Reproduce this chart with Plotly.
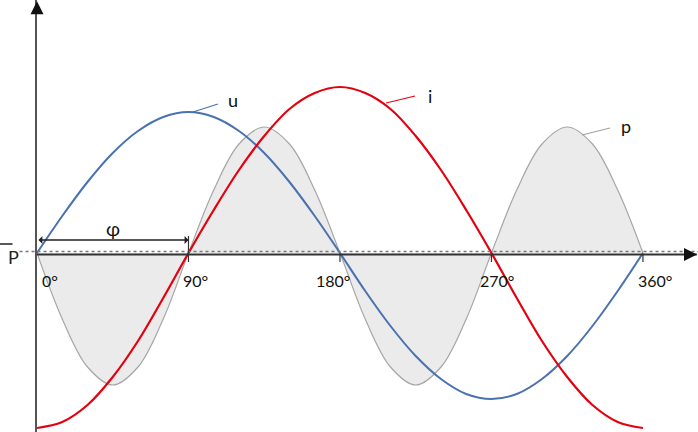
import plotly.graph_objects as go

# angle in degrees (pixels above the zero line)
angle = [0, 15, 30, 45, 60, 75, 90, 105, 120, 135, 150, 165, 180,
         195, 210, 225, 240, 255, 270, 285, 300, 315, 330, 345, 360]
u_vals = [0, 37, 71, 100, 122, 136, 141, 136, 122, 100, 71, 37, 0,
          -38, -73, -103, -126, -141, -146, -141, -126, -103, -73, -38, 0]
i_vals = [-175, -169, -152, -124, -88, -45, 0, 43, 83, 117, 144, 160, 166,
          160, 144, 117, 83, 43, 0, -45, -88, -124, -152, -169, -175]
p_vals = [0, -66, -114, -132, -114, -66, 0, 63, 109, 126, 109, 63, 0,
          -66, -114, -132, -114, -66, 0, 63, 109, 126, 109, 63, 0]

tick_vals = [0, 90, 180, 270, 360]
tick_text = ["0°", "90°", "180°", "270°", "360°"]
tick_shift = [13, 7, -7, 6, 12]

blue = "#4a72b0"
red = "#e3000f"
font = "Lato"

fig = go.Figure()

# p with grey fill
fig.add_trace(go.Scatter(x=angle, y=p_vals, mode="lines", line_shape="spline",
                         line=dict(color="#a6a6a6", width=1.2),
                         fill="tozeroy", fillcolor="#ebebeb", name="p"))
fig.add_trace(go.Scatter(x=angle, y=u_vals, mode="lines", line_shape="spline",
                         line=dict(color=blue, width=2), name="u"))
fig.add_trace(go.Scatter(x=angle, y=i_vals, mode="lines", line_shape="spline",
                         line=dict(color=red, width=2.2), name="i"))

# dotted mean-power line
fig.add_shape(type="line", xref="paper", yref="y", x0=0.028, x1=1, y0=1.5, y1=1.5,
              line=dict(color="#777777", width=1.5, dash="dot"), layer="above")
# solid x axis
fig.add_shape(type="line", xref="x", yref="y", x0=0, x1=392, y0=-1.5, y1=-1.5,
              line=dict(color="#333333", width=2), layer="above")
# axis ticks
for t in tick_vals[1:]:
    fig.add_shape(type="line", xref="x", yref="y", x0=t, x1=t, y0=-1.5, y1=-9,
                  line=dict(color="#333333", width=1.2))
fig.add_shape(type="line", xref="x", yref="y", x0=90, x1=90, y0=0, y1=17,
              line=dict(color="#333333", width=1.2))

# P bar label
fig.add_annotation(x=0.008, xref="paper", y=-4, yref="y", text="P", showarrow=False,
                   font=dict(family=font, size=18, color="#222"))
fig.add_shape(type="line", xref="paper", yref="y", x0=0.0, x1=0.018, y0=9, y1=9,
              line=dict(color="#222", width=1.5))

# tick labels
for t, lab, s in zip(tick_vals, tick_text, tick_shift):
    fig.add_annotation(x=t, y=-27, text=lab, showarrow=False, xshift=s,
                       font=dict(family=font, size=16, color="#111"))

# phi arrow
fig.add_annotation(x=90, y=13, ax=0, ay=13, axref="x", ayref="y", text="",
                   showarrow=True, arrowhead=1, arrowside="end+start",
                   arrowsize=1, arrowwidth=1.3, arrowcolor="#222")
fig.add_annotation(x=45, y=25, text="φ", showarrow=False,
                   font=dict(family=font, size=19, color="#111"))

# curve labels with leader lines
labels = [("u", 116.5, 153, 92.7, 141, 107.5, 149, blue),
          ("i", 233.5, 157, 207.4, 150, 224.6, 157, red),
          ("p", 350, 127, 323.8, 118, 340.4, 125, "#a0a0a0")]
for txt, lx, ly, x0, y0, x1, y1, c in labels:
    fig.add_shape(type="line", xref="x", yref="y", x0=x0, y0=y0, x1=x1, y1=y1,
                  line=dict(color=c, width=1.2))
    fig.add_annotation(x=lx, y=ly, text=txt, showarrow=False,
                       font=dict(family=font, size=18, color="#111"))

# arrowheads of the axes
fig.add_annotation(x=1, xref="paper", y=-1.5, yref="y", ax=-12, ay=0, text="",
                   showarrow=True, arrowhead=2, arrowsize=1.3, arrowwidth=2,
                   arrowcolor="#111")
fig.add_annotation(x=0, y=0.997, yref="paper", ax=0, ay=12, text="",
                   showarrow=True, arrowhead=2, arrowsize=1.3, arrowwidth=2,
                   arrowcolor="#111")

fig.update_layout(
    width=698, height=432,
    margin=dict(l=0, r=0, t=0, b=0),
    plot_bgcolor="white", paper_bgcolor="white",
    showlegend=False,
)
fig.update_xaxes(domain=[37 / 698, 1], range=[0, 392.7], showgrid=False,
                 zeroline=False, showticklabels=False, ticks="")
fig.update_yaxes(range=[-179, 253], showgrid=False, zeroline=False,
                 showticklabels=False, ticks="", showline=True,
                 linecolor="#555555", linewidth=2)

# page margin off so the figure fills the window
fig.write_html("out.html", config={"displayModeBar": False},
               post_script="document.body.style.margin='0';")
